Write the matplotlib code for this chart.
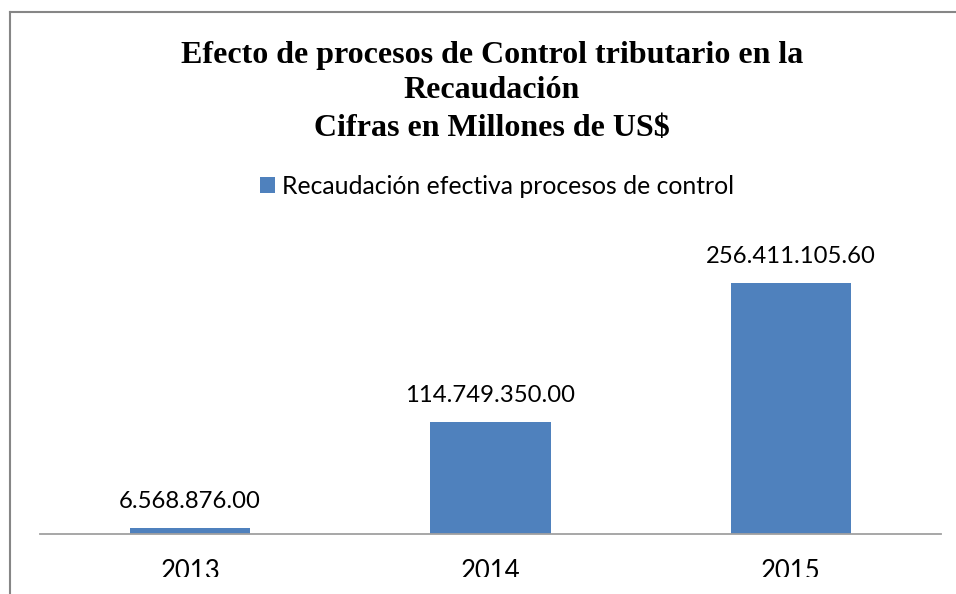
import numpy as np
import matplotlib.pyplot as plt
from matplotlib.lines import Line2D
from matplotlib.patches import Patch
from matplotlib.transforms import Bbox, TransformedBbox


years = ["2013", "2014", "2015"]
recaudacion = [6568876.00, 114749350.00, 256411105.60]
serie = "Recaudación efectiva procesos de control"
titulo = ["Efecto de procesos de Control tributario en la",
          "Recaudación",
          "Cifras en Millones de US$"]

BLUE = "#4f81bd"
SANS = ["Lato", "DejaVu Sans"]


def _fmt(v):
    # 256,411,105.60 -> 256.411.105.60 (as in the source sheet)
    return f"{v:,.2f}".replace(",", ".")


fig = plt.figure(figsize=(9.56, 5.94), dpi=100)
W, H = 956, 594

ax = fig.add_axes([40 / W, (H - 534) / H, 901 / W, 294 / H])

x = np.arange(len(years))
bars = ax.bar(x, recaudacion, width=0.4, color=BLUE, zorder=2)

for b, v in zip(bars, recaudacion):
    ax.annotate(_fmt(v),
                xy=(b.get_x() + b.get_width() / 2, b.get_height()),
                xytext=(0, 11), textcoords="offset points",
                ha="center", va="bottom", fontsize=17.2, family=SANS,
                color="black")

ax.set_xlim(-0.5, len(years) - 0.5)
ax.set_ylim(0, 300e6)
ax.set_xticks(x)
ax.set_xticklabels(years, fontsize=18.5, family=SANS)
ax.tick_params(axis="x", length=0, pad=18)
ax.set_yticks([])

# in the original the year labels are cut off near the bottom of the chart
clip = TransformedBbox(Bbox.from_extents(0, (H - 577) / H, 1, 1), fig.transFigure)
for lab in ax.get_xticklabels():
    lab.set_clip_box(clip)
    lab.set_clip_on(True)

for s in ["top", "right", "left"]:
    ax.spines[s].set_visible(False)
ax.spines["bottom"].set_color("#a0a0a0")
ax.spines["bottom"].set_linewidth(1.3)
ax.patch.set_alpha(0)

# title, one text per line (baselines)
for line, base in zip(titulo, [63, 98, 136]):
    fig.text(492 / W, 1 - base / H, line, ha="center", va="baseline",
             fontsize=23, fontweight="bold", family="Liberation Serif")

# legend
leg = fig.legend(handles=[Patch(facecolor=BLUE, edgecolor="none", label=serie)],
                 loc="center", bbox_to_anchor=(497 / W, 1 - 186 / H),
                 frameon=False, prop={"family": SANS, "size": 17.8},
                 handlelength=0.62, handleheight=0.62, handletextpad=0.3)

# chart-area frame (only left and top edges show in the crop)
fig.add_artist(Line2D([10 / W, 10 / W], [0, 1 - 12 / H],
                      transform=fig.transFigure, color="#868686", lw=1.5))
fig.add_artist(Line2D([10 / W, 1], [1 - 12 / H, 1 - 12 / H],
                      transform=fig.transFigure, color="#868686", lw=1.5))

fig.savefig("out.png", dpi=100)
